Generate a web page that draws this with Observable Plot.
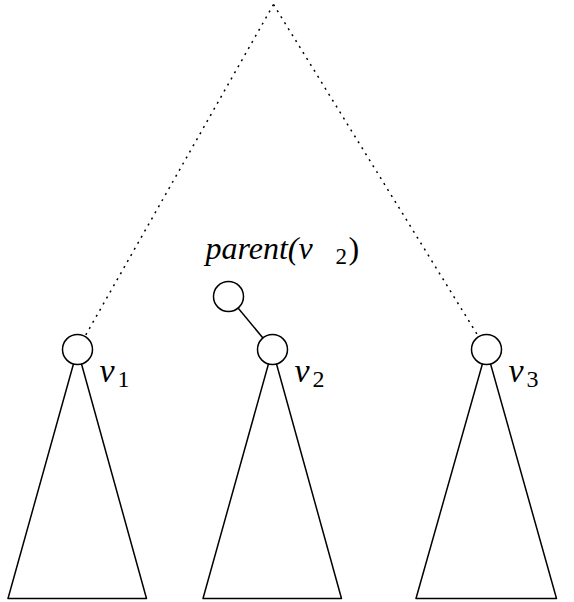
<!DOCTYPE html>
<html>
<head>
<meta charset="utf-8">
<script src="https://cdn.jsdelivr.net/npm/d3@7"></script>
<script src="https://cdn.jsdelivr.net/npm/@observablehq/plot@0.6"></script>
<style>body{margin:0;background:#fff}</style>
</head>
<body>
<div id="chart"></div>
<script>
// node positions in picture units (x right, y down)
const nodes = [
  {id: "v1", x: 77, y: 349, sub: "1"},
  {id: "v2", x: 272, y: 349, sub: "2"},
  {id: "v3", x: 486, y: 349, sub: "3"}
]
const parentNode = {x: 228, y: 296}
const root = {x: 273, y: 4}
const baseY = 598
const baseHalf = [69, 69, 70]
const parentLabel = {x: 205, y: 248, text: "parent(ν"}

// triangles as closed polylines
const tris = []
nodes.forEach((n, i) => {
  const pts = [[n.x, n.y], [n.x - baseHalf[i] - 0.5, baseY], [n.x + baseHalf[i], baseY], [n.x, n.y]]
  pts.forEach(p => tris.push({id: n.id, x: p[0], y: p[1]}))
})
const dotted = [nodes[0], nodes[2]].map(n => ({x1: root.x, y1: root.y, x2: n.x, y2: n.y}))
const solid = [{x1: parentNode.x, y1: parentNode.y, x2: nodes[1].x, y2: nodes[1].y}]

const serif = "Liberation Serif, DejaVu Serif, serif"

const chart = Plot.plot({
  width: 574,
  height: 602,
  margin: 0,
  x: {domain: [0, 574], range: [0, 574], axis: null},
  y: {domain: [0, 602], range: [0, 602], axis: null},
  style: {background: "white"},
  marks: [
    Plot.line(tris, {x: "x", y: "y", z: "id", stroke: "black", strokeWidth: 1.5}),
    Plot.link(dotted, {x1: "x1", y1: "y1", x2: "x2", y2: "y2", stroke: "black", strokeWidth: 1.5, strokeDasharray: "2,5"}),
    Plot.link(solid, {x1: "x1", y1: "y1", x2: "x2", y2: "y2", stroke: "black", strokeWidth: 1.5}),
    Plot.dot([...nodes, parentNode], {x: "x", y: "y", r: 15, fill: "white", stroke: "black", strokeWidth: 1.5}),
    Plot.text(nodes, {x: d => d.x + 22, y: d => d.y + 22, text: () => "ν", fontSize: 34, fontStyle: "italic", fontFamily: serif, textAnchor: "start", fill: "black"}),
    Plot.text(nodes, {x: d => d.x + 40, y: d => d.y + 30, text: "sub", fontSize: 24, fontFamily: serif, textAnchor: "start", fill: "black"}),
    Plot.text([parentLabel], {x: "x", y: "y", text: "text", fontSize: 32, fontStyle: "italic", fontFamily: serif, textAnchor: "start", fill: "black"}),
    Plot.text([parentLabel], {x: d => d.x + 130, y: d => d.y + 8, text: () => "2", fontSize: 23, fontFamily: serif, textAnchor: "start", fill: "black"}),
    Plot.text([parentLabel], {x: d => d.x + 143, y: d => d.y, text: () => ")", fontSize: 32, fontFamily: serif, textAnchor: "start", fill: "black"})
  ]
})
document.getElementById("chart").append(chart)
</script>
</body>
</html>
